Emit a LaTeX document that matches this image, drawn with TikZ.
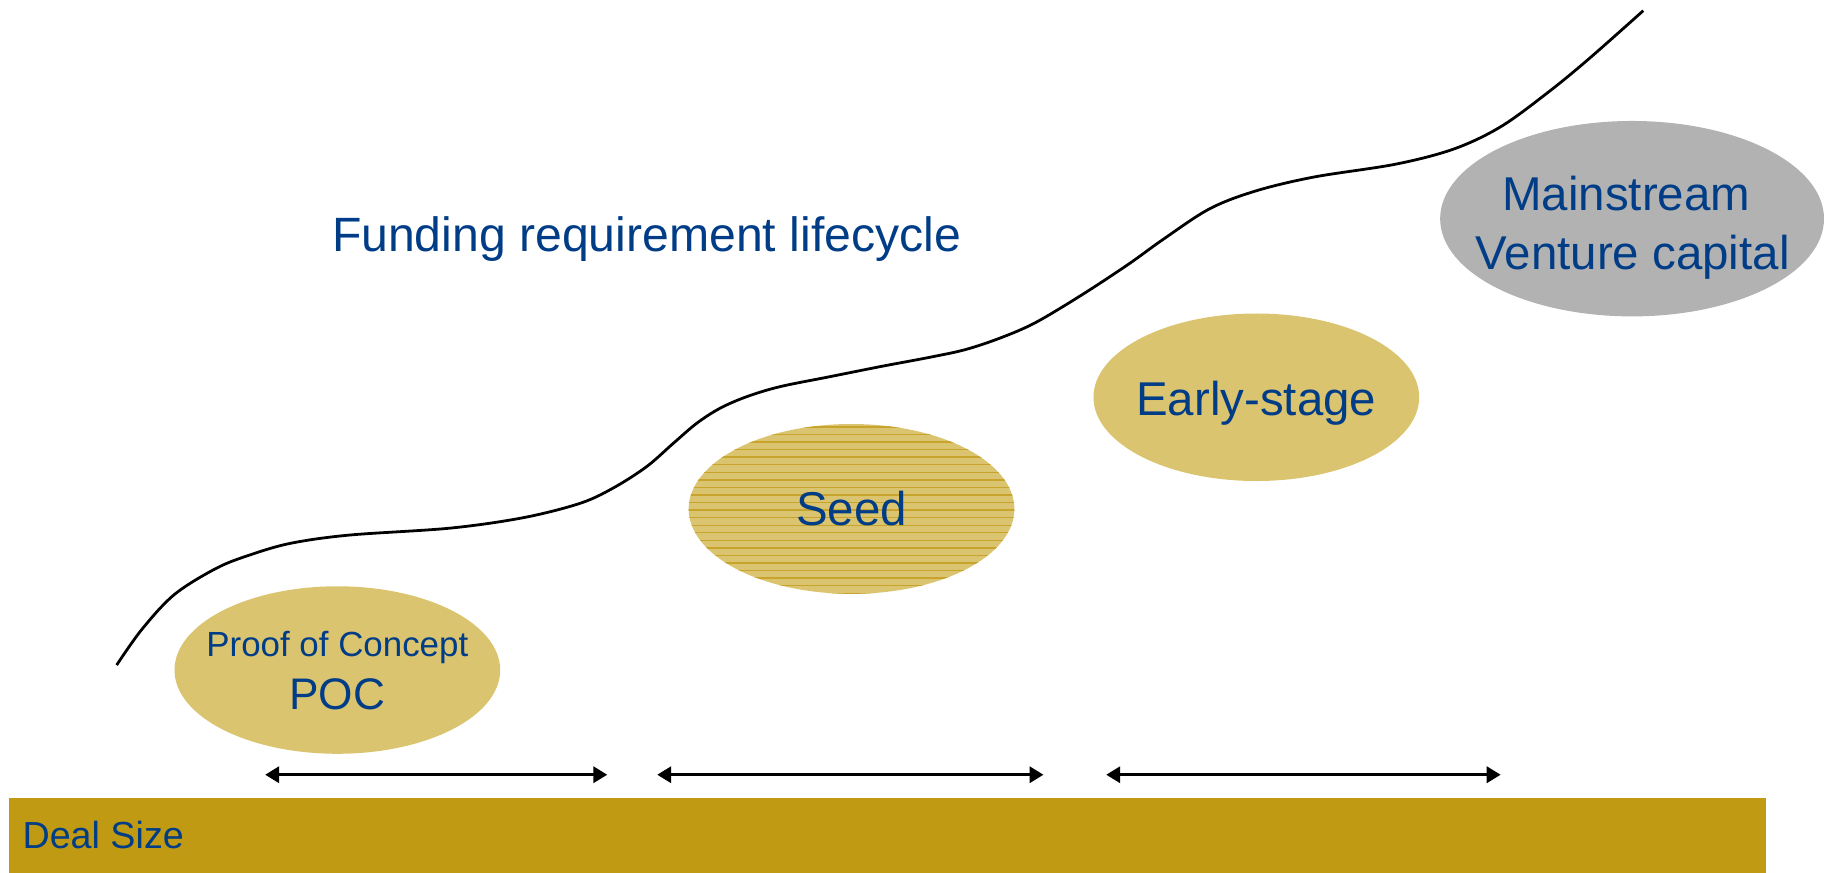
\documentclass[tikz,border=0pt]{standalone}
\usepackage{fontspec}
\setmainfont{Liberation Sans}
\usetikzlibrary{shapes.geometric,arrows.meta}
\definecolor{txtblue}{RGB}{0,61,134}
\definecolor{dealgold}{RGB}{192,154,18}
\definecolor{khaki}{RGB}{219,196,112}
\definecolor{seedline}{RGB}{200,164,45}
\definecolor{vcgray}{RGB}{178,178,178}
\begin{document}
\begin{tikzpicture}[x=0.5pt,y=-0.5pt,
  stage/.style={ellipse, fill=khaki, inner sep=0pt, minimum width=140pt, minimum height=72pt},
  lbl/.style={anchor=base, inner sep=0pt, text=txtblue, font=\fontsize{20.4}{24}\selectfont},
  small/.style={font=\fontsize{15}{18}\selectfont},
  span/.style={line width=1.2pt, {Triangle[length=6pt,width=7pt]}-{Triangle[length=6pt,width=7pt]}},
  curve/.style={line width=1.2pt}
  ]
\useasboundingbox (0,0) rectangle (1568,750.47);
% deal size bar
\fill[dealgold] (8,686) rectangle (1518,750.47);
\node[lbl, anchor=base west, font=\fontsize{16.2}{19}\selectfont] (deal) at (19,729) {Deal Size};
% ellipses
\node[stage] (poc) at (290,576) {};
\node[stage, minimum height=73pt] (seed) at (732,437.5) {};
\begin{scope}
  \clip (732,437.5) ellipse [x radius=70pt, y radius=36.5pt];
  \foreach \yy in {367,373.5,...,512} \draw[seedline, line width=0.6pt] (590,\yy) -- (875,\yy);
\end{scope}
\node[stage] (early) at (1080,341.5) {};
\node[ellipse, fill=vcgray, inner sep=0pt, minimum width=165pt, minimum height=84pt] (vc) at (1403,188) {};
% labels
\node[lbl, small] (poct) at (290,564.5) {Proof of Concept};
\node[lbl, font=\fontsize{19}{22}\selectfont] (poca) at (290,610.3) {POC};
\node[lbl] (seedt) at (732,452) {Seed};
\node[lbl] (earlyt) at (1080,357) {Early-stage};
\node[lbl] (vct1) at (1398,181) {Mainstream};
\node[lbl] (vct2) at (1403.5,231.5) {Venture capital};
\node[lbl, anchor=base west, font=\fontsize{20.7}{24}\selectfont] (title) at (285,216) {Funding requirement lifecycle};
% lifecycle curve
\draw[curve] plot[smooth, tension=0.55] coordinates {
  (100.3,571.7) (122,541) (150,511) (186,488.5) (215,477)
  (250,467) (300,460) (387,454) (450,445) (498.6,432.7) (527.2,419.5)
  (555.8,401.2) (578.8,381.1) (598.9,363.9) (618.9,351) (641.9,341) (670.5,332.4)
  (713.5,323.8) (756.5,315.2) (800,307) (830,300.5) (860,290.5) (890,277.4)
  (930,253.5) (970,227.2) (1000,205.7) (1040,179.4) (1080,164) (1130,152.1)
  (1200,141.1) (1250,128) (1290,109) (1330,80) (1365.4,51) (1412.6,9.2)};
% span arrows
\coordinate (a1l) at (228,666); \coordinate (a1r) at (522,666);
\coordinate (a2l) at (565,666); \coordinate (a2r) at (897,666);
\coordinate (a3l) at (951,666); \coordinate (a3r) at (1290,666);
\draw[span] (a1l) -- (a1r);
\draw[span] (a2l) -- (a2r);
\draw[span] (a3l) -- (a3r);
\end{tikzpicture}
\end{document}
